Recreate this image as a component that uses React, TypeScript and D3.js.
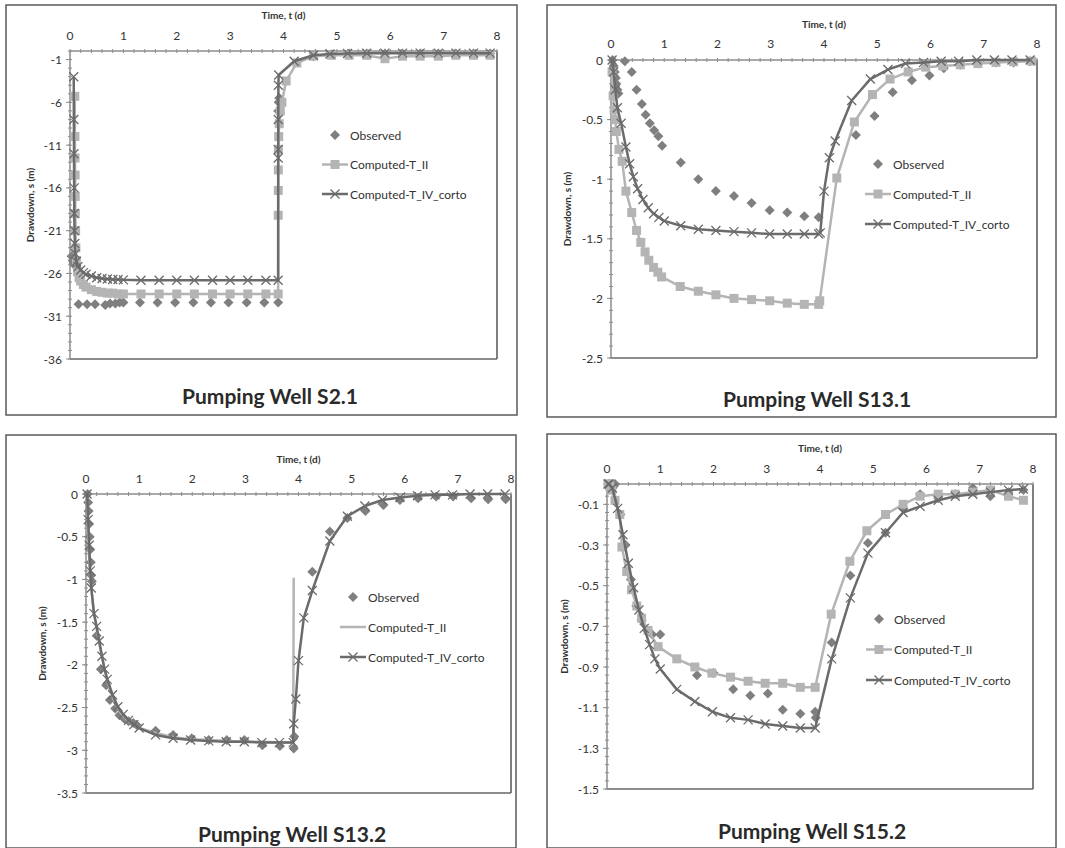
import React from 'react';
import * as d3 from 'd3';

// ---- data: time (d) / drawdown (m) ----

// Pumping Well S2.1
const s21ObsT = [0.03, 0.05, 0.07, 0.09, 0.11, 0.13, 0.16, 0.32, 0.47, 0.66, 0.75, 0.85, 0.93, 1.0, 1.31, 1.64, 1.97, 2.31, 2.64, 2.97, 3.31, 3.64, 3.9, 3.9, 3.91, 3.92, 4.56, 4.9, 5.23, 5.56, 5.9, 6.23, 6.56, 6.9, 7.23, 7.56, 7.87];
const s21ObsV = [-24, -24.5, -24.8, -25, -25.2, -25.3, -29.6, -29.6, -29.6, -29.7, -29.5, -29.5, -29.4, -29.4, -29.4, -29.4, -29.4, -29.4, -29.4, -29.4, -29.4, -29.4, -29.4, -7, -6, -5.5, -0.6, -0.4, -0.3, -0.3, -0.3, -0.3, -0.3, -0.3, -0.3, -0.3, -0.3];
const s21IIT = [0.09, 0.092, 0.094, 0.096, 0.098, 0.1, 0.105, 0.11, 0.12, 0.14, 0.17, 0.2, 0.25, 0.3, 0.4, 0.5, 0.6, 0.7, 0.8, 0.9, 1.0, 1.33, 1.67, 2.0, 2.33, 2.67, 3.0, 3.33, 3.67, 3.9, 3.901, 3.902, 3.903, 3.905, 3.91, 3.92, 3.94, 3.97, 4.05, 4.25, 4.56, 4.9, 5.23, 5.56, 5.9, 6.23, 6.56, 6.9, 7.23, 7.56, 7.87];
const s21IIV = [-5.3, -10, -12.5, -14.5, -17, -19, -21, -23, -24.5, -25.8, -26.5, -26.9, -27.3, -27.6, -27.9, -28.1, -28.2, -28.3, -28.3, -28.4, -28.4, -28.4, -28.4, -28.4, -28.4, -28.4, -28.4, -28.4, -28.4, -28.4, -19.2, -16.3, -13.9, -11.5, -10, -8.5, -7, -6, -3.5, -1.4, -0.6, -0.5, -0.5, -0.5, -0.9, -0.6, -0.6, -0.6, -0.5, -0.5, -0.5];
const s21IVT = [0.07, 0.072, 0.075, 0.078, 0.08, 0.085, 0.09, 0.1, 0.12, 0.15, 0.2, 0.25, 0.3, 0.4, 0.5, 0.6, 0.7, 0.8, 0.9, 1.0, 1.33, 1.67, 2.0, 2.33, 2.67, 3.0, 3.33, 3.67, 3.9, 3.9005, 3.901, 3.902, 3.904, 3.91, 4.2, 4.56, 4.87, 5.2, 5.56, 5.9, 6.23, 6.56, 6.9, 7.23, 7.56, 7.87];
const s21IVV = [-3, -8, -12, -16, -19, -21, -22.5, -23.7, -24.6, -25.2, -25.6, -25.9, -26.1, -26.3, -26.5, -26.6, -26.65, -26.7, -26.7, -26.75, -26.8, -26.8, -26.8, -26.8, -26.8, -26.8, -26.8, -26.8, -26.8, -12.5, -11.5, -8, -4, -2.8, -1.2, -0.5, -0.35, -0.3, -0.27, -0.25, -0.25, -0.25, -0.25, -0.25, -0.25, -0.25];
const s21Ticks = [-1, -6, -11, -16, -21, -26, -31, -36];

// Pumping Well S13.1
const s131ObsT = [0.03, 0.05, 0.07, 0.09, 0.1, 0.12, 0.14, 0.26, 0.39, 0.48, 0.58, 0.65, 0.73, 0.81, 0.89, 0.96, 1.31, 1.64, 1.97, 2.31, 2.64, 2.98, 3.31, 3.63, 3.9, 4.6, 4.95, 5.29, 5.65, 5.98, 6.25, 6.56, 6.9, 7.23, 7.56, 7.87];
const s131ObsV = [0, -0.05, -0.1, -0.15, -0.2, -0.25, -0.28, -0.01, -0.1, -0.25, -0.37, -0.46, -0.53, -0.59, -0.64, -0.72, -0.86, -1.0, -1.1, -1.14, -1.2, -1.26, -1.28, -1.31, -1.32, -0.63, -0.47, -0.27, -0.17, -0.13, -0.07, -0.04, -0.03, -0.02, -0.02, -0.01];
const s131IIT = [0.02, 0.04, 0.06, 0.08, 0.1, 0.15, 0.21, 0.28, 0.39, 0.48, 0.56, 0.64, 0.71, 0.8, 0.88, 0.95, 1.3, 1.64, 1.97, 2.31, 2.64, 2.98, 3.31, 3.63, 3.9, 3.92, 4.24, 4.57, 4.91, 5.24, 5.58, 5.91, 6.23, 6.56, 6.89, 7.23, 7.56, 7.9];
const s131IIV = [-0.1, -0.3, -0.42, -0.5, -0.6, -0.75, -0.85, -1.1, -1.28, -1.43, -1.53, -1.61, -1.68, -1.74, -1.78, -1.82, -1.9, -1.94, -1.97, -2.0, -2.01, -2.02, -2.04, -2.05, -2.05, -2.02, -0.99, -0.52, -0.29, -0.16, -0.1, -0.06, -0.05, -0.04, -0.03, -0.02, -0.015, -0.01];
const s131IVT = [0.02, 0.05, 0.08, 0.12, 0.19, 0.28, 0.35, 0.42, 0.5, 0.6, 0.7, 0.8, 0.9, 1.0, 1.31, 1.64, 1.97, 2.31, 2.64, 2.98, 3.31, 3.63, 3.9, 3.93, 4.0, 4.1, 4.21, 4.52, 4.87, 5.2, 5.53, 5.87, 6.2, 6.53, 6.87, 7.2, 7.53, 7.87];
const s131IVV = [0, -0.1, -0.25, -0.4, -0.53, -0.73, -0.87, -0.98, -1.08, -1.17, -1.24, -1.29, -1.32, -1.35, -1.39, -1.42, -1.43, -1.44, -1.45, -1.46, -1.46, -1.46, -1.46, -1.45, -1.1, -0.82, -0.68, -0.34, -0.16, -0.08, -0.03, -0.02, -0.01, -0.01, 0, 0, 0, 0];
const s131Ticks = [0, -0.5, -1, -1.5, -2, -2.5];

// Pumping Well S13.2
const s132ObsT = [0.03, 0.04, 0.05, 0.06, 0.07, 0.08, 0.09, 0.1, 0.11, 0.2, 0.28, 0.38, 0.45, 0.55, 0.63, 0.72, 0.8, 0.89, 0.95, 1.31, 1.64, 1.99, 2.31, 2.65, 2.98, 3.32, 3.65, 3.91, 3.92, 4.26, 4.59, 4.92, 5.26, 5.6, 5.91, 6.25, 6.59, 6.91, 7.25, 7.57, 7.9];
const s132ObsV = [0, -0.1, -0.2, -0.35, -0.5, -0.65, -0.8, -0.95, -1.02, -1.66, -2.05, -2.24, -2.41, -2.51, -2.59, -2.63, -2.66, -2.68, -2.7, -2.77, -2.82, -2.86, -2.88, -2.88, -2.88, -2.94, -2.95, -2.98, -2.84, -0.91, -0.44, -0.28, -0.2, -0.13, -0.07, -0.05, -0.03, -0.03, -0.05, -0.06, -0.06];
const s132IIT = [0.01, 0.03, 0.05, 0.07, 0.09, 0.15, 0.25, 0.35, 0.45, 0.55, 0.65, 0.75, 0.85, 1.0, 1.33, 1.67, 2.0, 2.33, 2.67, 3.0, 3.33, 3.67, 3.9, 3.91];
const s132IIV = [0, -0.3, -0.6, -0.9, -1.05, -1.4, -1.75, -2.05, -2.3, -2.45, -2.56, -2.63, -2.68, -2.74, -2.8, -2.85, -2.87, -2.88, -2.89, -2.9, -2.9, -2.91, -2.91, -0.98];
const s132IVT = [0.02, 0.04, 0.06, 0.08, 0.1, 0.15, 0.2, 0.25, 0.3, 0.35, 0.4, 0.5, 0.6, 0.7, 0.8, 0.9, 1.0, 1.31, 1.64, 1.97, 2.31, 2.64, 2.98, 3.31, 3.64, 3.9, 3.91, 3.95, 4.0, 4.1, 4.26, 4.59, 4.92, 5.25, 5.58, 5.91, 6.24, 6.57, 6.9, 7.23, 7.56, 7.89];
const s132IVV = [0, -0.3, -0.6, -0.9, -1.1, -1.4, -1.55, -1.72, -1.9, -2.05, -2.17, -2.35, -2.49, -2.58, -2.65, -2.7, -2.74, -2.82, -2.86, -2.88, -2.89, -2.9, -2.9, -2.91, -2.91, -2.91, -2.69, -2.4, -1.95, -1.45, -1.13, -0.55, -0.26, -0.14, -0.07, -0.04, -0.02, -0.01, -0.01, 0, 0, 0];
const s132Ticks = [0, -0.5, -1, -1.5, -2, -2.5, -3, -3.5];

// Pumping Well S15.2
const s152ObsT = [0.02, 0.05, 0.08, 0.1, 0.13, 0.15, 0.25, 0.35, 0.45, 0.55, 0.65, 0.75, 0.85, 1.0, 1.69, 2.0, 2.37, 2.69, 3.02, 3.3, 3.63, 3.91, 3.92, 4.22, 4.57, 4.9, 5.23, 5.56, 5.88, 6.22, 6.54, 6.87, 7.2, 7.54, 7.82];
const s152ObsV = [0, 0, -0.01, -0.02, -0.01, 0, -0.15, -0.3, -0.47, -0.6, -0.67, -0.72, -0.74, -0.74, -0.94, -0.93, -1.01, -1.04, -1.03, -1.11, -1.13, -1.12, -1.15, -0.78, -0.45, -0.29, -0.24, -0.12, -0.05, -0.07, -0.05, -0.02, -0.06, -0.04, -0.03];
const s152IIT = [0.02, 0.05, 0.09, 0.15, 0.24, 0.28, 0.37, 0.46, 0.56, 0.65, 0.77, 0.96, 1.31, 1.65, 1.97, 2.32, 2.65, 2.97, 3.3, 3.63, 3.91, 4.21, 4.56, 4.88, 5.23, 5.56, 5.88, 6.22, 6.54, 6.87, 7.2, 7.54, 7.82];
const s152IIV = [0, -0.01, -0.03, -0.08, -0.15, -0.31, -0.43, -0.52, -0.6, -0.66, -0.72, -0.8, -0.86, -0.9, -0.93, -0.95, -0.97, -0.98, -0.98, -1.0, -1.0, -0.64, -0.38, -0.23, -0.15, -0.1, -0.06, -0.05, -0.05, -0.04, -0.03, -0.06, -0.08];
const s152IVT = [0.02, 0.04, 0.1, 0.2, 0.3, 0.4, 0.5, 0.6, 0.7, 0.8, 0.9, 1.0, 1.31, 1.65, 1.98, 2.32, 2.65, 2.97, 3.3, 3.63, 3.91, 4.22, 4.57, 4.9, 5.23, 5.56, 5.88, 6.22, 6.54, 6.87, 7.2, 7.54, 7.82];
const s152IVV = [0, 0, -0.02, -0.12, -0.25, -0.39, -0.51, -0.62, -0.71, -0.79, -0.86, -0.91, -1.01, -1.07, -1.12, -1.15, -1.16, -1.18, -1.19, -1.2, -1.2, -0.86, -0.56, -0.34, -0.24, -0.14, -0.11, -0.08, -0.06, -0.05, -0.04, -0.03, -0.025];
const s152Ticks = [-0.1, -0.3, -0.5, -0.7, -0.9, -1.1, -1.3, -1.5];

const xTicks = [0, 1, 2, 3, 4, 5, 6, 7, 8];
const seriesNames = ['Observed', 'Computed-T_II', 'Computed-T_IV_corto'];

const FONT = 'Lato, "Open Sans", sans-serif';
const C_OBS = '#7f7f7f';
const C_II = '#b4b4b4';
const C_IV = '#6b6b6b';
const C_AXIS = '#8c8c8c';

const zip = (t, v) => t.map((d, i) => [d, v[i]]);

// Excel-style markers
const diamond = 'M0,-5L5,0L0,5L-5,0Z';
const square = 'M-4.5,-4.5H4.5V4.5H-4.5Z';
const cross = 'M-4.5,-4.5L4.5,4.5M-4.5,4.5L4.5,-4.5';

function Panel({ cfg }) {
  const { box, plot, yDomain, yTicks, yMinorStep, title, titleXY, timeY, xLabY, yLabX, legend } = cfg;
  const x = d3.scaleLinear().domain([0, 8]).range([plot.left, plot.right]);
  const y = d3.scaleLinear().domain(yDomain).range([plot.bottom, plot.top]);
  const line = d3.line().x(d => x(d[0])).y(d => y(d[1]));

  const obs = zip(cfg.obs[0], cfg.obs[1]);
  const ii = zip(cfg.ii[0], cfg.ii[1]);
  const iv = zip(cfg.iv[0], cfg.iv[1]);

  const xMinor = d3.range(0, 8.001, 0.2);
  const yMinor = d3.range(yDomain[0], yDomain[1] + 1e-6, yMinorStep);

  return (
    <g>
      <rect x={box[0]} y={box[1]} width={box[2] - box[0]} height={box[3] - box[1]} fill="#fff" stroke="#5a5a5a" strokeWidth={1.5} />
      {/* plot frame */}
      <line x1={plot.right} x2={plot.right} y1={plot.top} y2={plot.bottom} stroke="#555" strokeWidth={1.5} />
      <line x1={plot.left} x2={plot.right} y1={plot.bottom} y2={plot.bottom} stroke="#666" strokeWidth={1.5} />
      <line x1={plot.left} x2={plot.left} y1={plot.top} y2={plot.bottom} stroke={C_AXIS} strokeWidth={1.5} />
      <line x1={plot.left} x2={plot.right} y1={plot.top} y2={plot.top} stroke={C_AXIS} strokeWidth={1.5} />
      {xMinor.map((t, i) => (
        <line key={'xm' + i} x1={x(t)} x2={x(t)} y1={plot.top - 2} y2={plot.top + 2} stroke={C_AXIS} strokeWidth={1} />
      ))}
      {yMinor.map((v, i) => (
        <line key={'ym' + i} x1={plot.left - 2} x2={plot.left + 2} y1={y(v)} y2={y(v)} stroke={C_AXIS} strokeWidth={1} />
      ))}
      {yTicks.map(v => (
        <line key={'yt' + v} x1={plot.left - 4} x2={plot.left} y1={y(v)} y2={y(v)} stroke={C_AXIS} strokeWidth={1} />
      ))}
      {xTicks.map(t => (
        <text key={'xl' + t} x={x(t)} y={xLabY} textAnchor="middle" dominantBaseline="central" fontSize={12} fill="#333" fontFamily={FONT}>{t}</text>
      ))}
      {yTicks.map(v => (
        <text key={'yl' + v} x={plot.left - 8} y={y(v)} textAnchor="end" dominantBaseline="central" fontSize={12} fill="#333" fontFamily={FONT}>{v}</text>
      ))}
      <text x={(plot.left + plot.right) / 2} y={timeY} textAnchor="middle" dominantBaseline="central" fontSize={10} fontWeight="bold" fill="#333" fontFamily={FONT}>Time, t (d)</text>
      <text transform={`translate(${yLabX},${(plot.top + plot.bottom) / 2}) rotate(-90)`} textAnchor="middle" dominantBaseline="central" fontSize={10} fontWeight="bold" fill="#333" fontFamily={FONT}>Drawdown, s (m)</text>
      <text x={titleXY[0]} y={titleXY[1]} textAnchor="middle" dominantBaseline="central" fontSize={21} fontWeight="bold" fill="#2a2a2a" fontFamily={FONT}>{title}</text>

      {/* series */}
      {obs.map((d, i) => (
        <path key={'o' + i} d={diamond} transform={`translate(${x(d[0])},${y(d[1])})`} fill={C_OBS} />
      ))}
      <path d={line(ii)} fill="none" stroke={C_II} strokeWidth={2.5} strokeLinejoin="round" />
      {cfg.iiMarkers && ii.map((d, i) => (
        <path key={'s' + i} d={square} transform={`translate(${x(d[0])},${y(d[1])})`} fill={C_II} />
      ))}
      <path d={line(iv)} fill="none" stroke={C_IV} strokeWidth={2.5} strokeLinejoin="round" />
      {iv.map((d, i) => (
        <path key={'x' + i} d={cross} transform={`translate(${x(d[0])},${y(d[1])})`} stroke={C_IV} strokeWidth={1.3} fill="none" />
      ))}

      {/* legend */}
      {seriesNames.map((name, i) => {
        const ly = legend[1] + i * legend[2];
        const lx = legend[0];
        return (
          <g key={name}>
            {i > 0 && <line x1={lx - 28} x2={lx - 2} y1={ly} y2={ly} stroke={i === 1 ? C_II : C_IV} strokeWidth={2.5} />}
            {i === 0 && <path d={diamond} transform={`translate(${lx - 15},${ly})`} fill={C_OBS} />}
            {i === 1 && cfg.iiMarkers && <path d={square} transform={`translate(${lx - 15},${ly})`} fill={C_II} />}
            {i === 2 && <path d={cross} transform={`translate(${lx - 15},${ly})`} stroke={C_IV} strokeWidth={1.3} fill="none" />}
            <text x={lx} y={ly} dominantBaseline="central" fontSize={12} fill="#333" fontFamily={FONT}>{name}</text>
          </g>
        );
      })}
    </g>
  );
}

const panels = [
  {
    box: [6, 5, 517, 415], plot: { left: 70, right: 497, top: 51, bottom: 359 },
    yDomain: [-36, 0], yTicks: s21Ticks, yMinorStep: 1,
    title: 'Pumping Well S2.1', titleXY: [270, 395], timeY: 15, xLabY: 35, yLabX: 30,
    legend: [350, 135, 29.5],
    obs: [s21ObsT, s21ObsV], ii: [s21IIT, s21IIV], iv: [s21IVT, s21IVV], iiMarkers: true,
  },
  {
    box: [547, 5, 1056, 417], plot: { left: 611, right: 1037, top: 60, bottom: 358 },
    yDomain: [-2.5, 0], yTicks: s131Ticks, yMinorStep: 0.1,
    title: 'Pumping Well S13.1', titleXY: [817, 398], timeY: 24, xLabY: 43, yLabX: 567,
    legend: [893, 164, 30],
    obs: [s131ObsT, s131ObsV], ii: [s131IIT, s131IIV], iv: [s131IVT, s131IVV], iiMarkers: true,
  },
  {
    box: [6, 435, 516, 848], plot: { left: 86, right: 511, top: 494, bottom: 793 },
    yDomain: [-3.5, 0], yTicks: s132Ticks, yMinorStep: 0.1,
    title: 'Pumping Well S13.2', titleXY: [292, 833], timeY: 459, xLabY: 478, yLabX: 42,
    legend: [368, 597, 30],
    obs: [s132ObsT, s132ObsV], ii: [s132IIT, s132IIV], iv: [s132IVT, s132IVV], iiMarkers: false,
  },
  {
    box: [547, 434, 1056, 848], plot: { left: 607, right: 1033, top: 484, bottom: 789 },
    yDomain: [-1.5, 0], yTicks: s152Ticks, yMinorStep: 0.04,
    title: 'Pumping Well S15.2', titleXY: [812, 830], timeY: 448, xLabY: 468, yLabX: 564,
    legend: [894, 619, 30.5],
    obs: [s152ObsT, s152ObsV], ii: [s152IIT, s152IIV], iv: [s152IVT, s152IVV], iiMarkers: true,
  },
];

export default function App() {
  return (
    <svg width={1065} height={848} style={{ position: 'absolute', left: 0, top: 0, background: '#fff' }}>
      <rect width={1065} height={848} fill="#fff" />
      {panels.map((p, i) => <Panel key={i} cfg={p} />)}
    </svg>
  );
}
